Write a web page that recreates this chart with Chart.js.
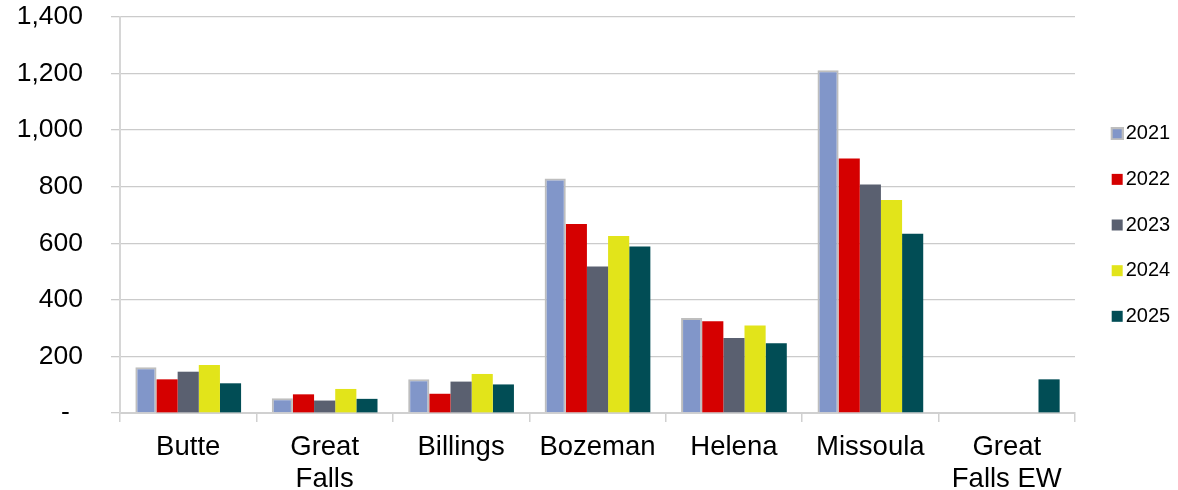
<!DOCTYPE html>
<html>
<head>
<meta charset="utf-8">
<script src="https://cdn.jsdelivr.net/npm/chart.js@4/dist/chart.umd.min.js"></script>
<style>
  html, body { margin: 0; padding: 0; background: #fff; }
  canvas { display: block; }
</style>
</head>
<body>
<canvas id="chart" width="1178" height="490"></canvas>
<script>
const cities = ['Butte', ['Great', 'Falls'], 'Billings', 'Bozeman', 'Helena', 'Missoula', ['Great', 'Falls EW']]
const years = ['2021', '2022', '2023', '2024', '2025']

const values2021 = [162, 52, 119, 829, 336, 1212, null]
const values2022 = [119, 66, 68, 668, 324, 900, null]
const values2023 = [146, 44, 111, 518, 265, 808, null]
const values2024 = [170, 85, 138, 626, 309, 753, null]
const values2025 = [105, 50, 101, 589, 247, 634, 119]

const yTicks = [0, 200, 400, 600, 800, 1000, 1200, 1400]

const seriesValues = [values2021, values2022, values2023, values2024, values2025]
const colors = ['#8196C9', '#D50000', '#5A6070', '#E2E41A', '#014D55']
const gridColor = '#D0D0D0'
const font = 'Liberation Sans, Arial, sans-serif'

// legend swatch: square pushed to the right edge so it sits close to the text
const makeSwatch = (fill, border) => {
  const c = document.createElement('canvas')
  c.width = 31
  c.height = 13
  const ctx = c.getContext('2d')
  ctx.fillStyle = fill
  ctx.fillRect(19, 1, 11, 11)
  if (border) {
    ctx.strokeStyle = border
    ctx.lineWidth = 2
    ctx.strokeRect(19, 1, 11, 11)
    ctx.fillRect(20, 2, 9, 9)
  }
  return c
}
const swatches = colors.map((col, i) => makeSwatch(col, i === 0 ? '#BEBEBE' : null))

const datasets = years.map((year, i) => ({
  label: year,
  data: seriesValues[i],
  backgroundColor: colors[i],
  borderColor: i === 0 ? '#BEBEBE' : colors[i],
  borderWidth: i === 0 ? 2 : 0,
  categoryPercentage: 0.775,
  barPercentage: 1,
}))

new Chart(document.getElementById('chart').getContext('2d'), {
  type: 'bar',
  data: { labels: cities, datasets },
  options: {
    responsive: false,
    animation: false,
    layout: { padding: { top: 17, right: 0, bottom: 0, left: 0 } },
    plugins: {
      tooltip: { enabled: false },
      legend: {
        position: 'right',
        fullSize: false,
        maxWidth: 103,
        title: { display: true, text: '', padding: { top: 4, bottom: 4 }, font: { size: 10 } },
        labels: {
          usePointStyle: true,
          boxWidth: 15,
          padding: 25.65,
          color: '#000',
          font: { family: font, size: 20 },
          generateLabels: (chart) =>
            Chart.defaults.plugins.legend.labels.generateLabels(chart).map((item, i) => ({ ...item, pointStyle: swatches[i] })),
        },
      },
    },
    scales: {
      x: {
        afterFit: (scale) => { scale.height = 77 },
        grid: { display: true, drawOnChartArea: false, drawTicks: true, tickLength: 9, color: gridColor, lineWidth: 1.5 },
        border: { display: true, color: gridColor, width: 2 },
        ticks: { color: '#000', padding: 9, font: { family: font, size: 27.5, lineHeight: 1.17 } },
      },
      y: {
        min: 0,
        max: 1400,
        afterFit: (scale) => {
          scale.width = 120
          scale.paddingTop = 16
          scale.paddingBottom = 16
        },
        afterBuildTicks: (scale) => { scale.ticks = yTicks.map((v) => ({ value: v })) },
        grid: { color: '#CBCBCB', lineWidth: 1.3, tickLength: 9 },
        border: { display: true, color: '#D6D6D6', width: 2 },
        ticks: {
          color: '#000',
          padding: 28,
          font: { family: font, size: 26.5 },
          callback: (v) => (v === 0 ? '-\u2002' : v.toLocaleString('en-US')),
        },
      },
    },
  },
})
</script>
</body>
</html>
